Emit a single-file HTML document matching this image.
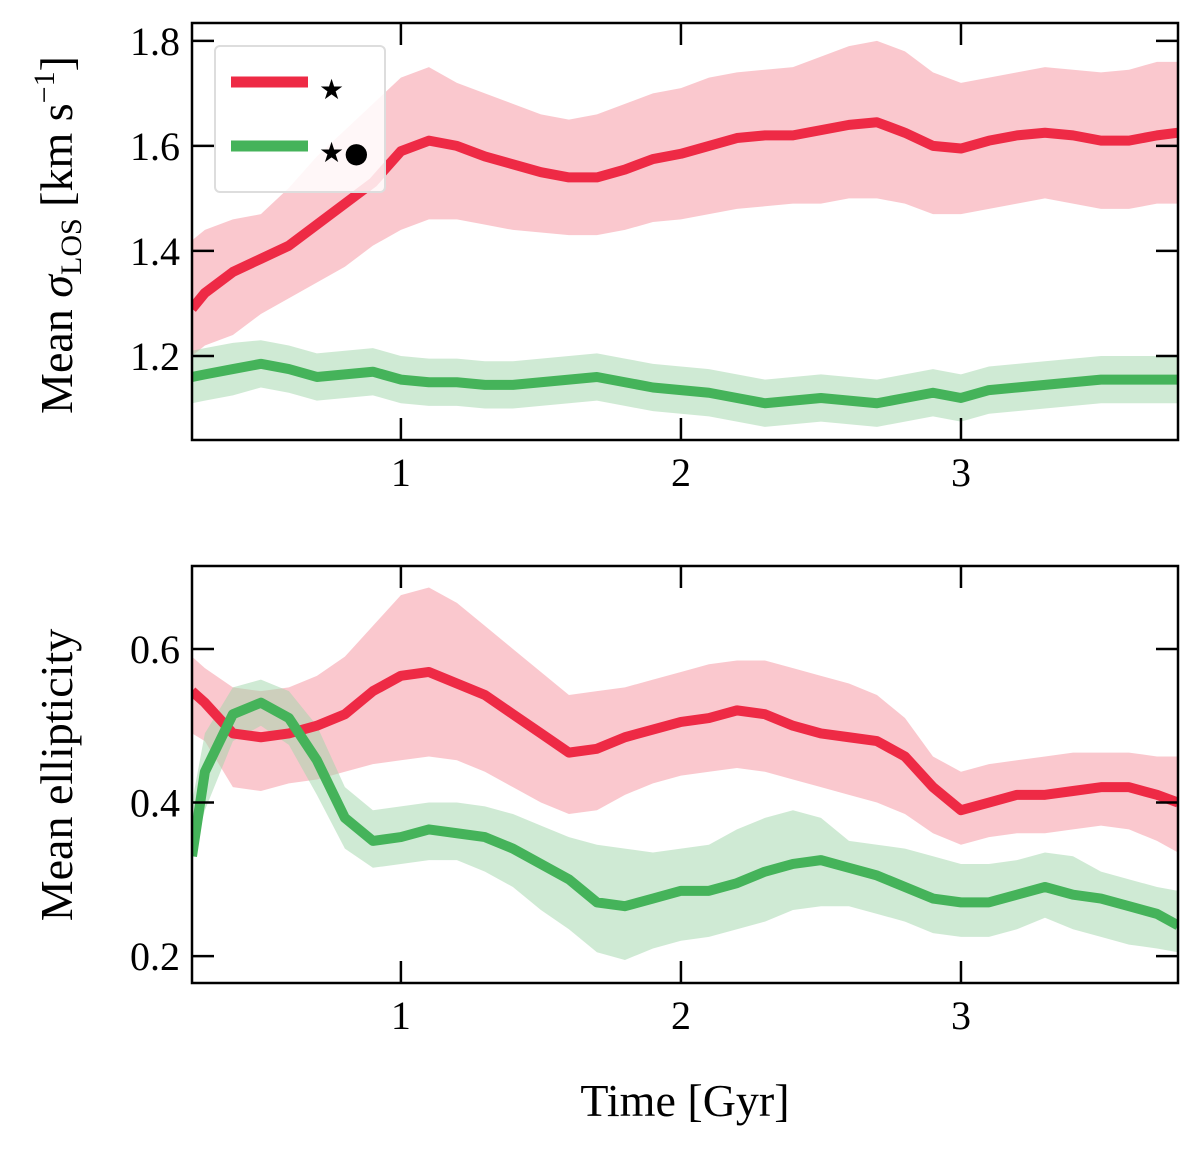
<!DOCTYPE html>
<html><head><meta charset="utf-8"><style>
html,body{margin:0;padding:0;background:#fff}
svg{display:block;font-family:"Liberation Serif",serif}
</style></head><body>
<svg id="chart" width="1200" height="1150" xmlns="http://www.w3.org/2000/svg"></svg>
<script>
const times=[0.254,0.3,0.4,0.5,0.6,0.7,0.8,0.9,1.0,1.1,1.2,1.3,1.4,1.5,1.6,1.7,1.8,1.9,2.0,2.1,2.2,2.3,2.4,2.5,2.6,2.7,2.8,2.9,3.0,3.1,3.2,3.3,3.4,3.5,3.6,3.7,3.775];
const xTicks=[1,2,3];
const sigmaTicks=[1.2,1.4,1.6,1.8];
const ellTicks=[0.2,0.4,0.6];
const sigStarMean=[1.29,1.32,1.36,1.385,1.41,1.45,1.49,1.53,1.59,1.61,1.60,1.58,1.565,1.55,1.54,1.54,1.555,1.575,1.585,1.60,1.615,1.62,1.62,1.63,1.64,1.645,1.625,1.60,1.595,1.61,1.62,1.625,1.62,1.61,1.61,1.62,1.625];
const sigStarHi=[1.42,1.44,1.46,1.47,1.52,1.58,1.63,1.68,1.73,1.75,1.72,1.70,1.68,1.66,1.65,1.66,1.68,1.70,1.71,1.73,1.74,1.745,1.75,1.77,1.79,1.80,1.78,1.74,1.72,1.73,1.74,1.75,1.745,1.74,1.745,1.76,1.76];
const sigStarLo=[1.20,1.22,1.24,1.28,1.31,1.34,1.37,1.41,1.44,1.46,1.46,1.45,1.44,1.435,1.43,1.43,1.44,1.455,1.46,1.47,1.48,1.485,1.49,1.49,1.50,1.50,1.49,1.47,1.47,1.48,1.49,1.50,1.49,1.48,1.48,1.49,1.49];
const sigBhMean=[1.16,1.165,1.175,1.185,1.175,1.16,1.165,1.17,1.155,1.15,1.15,1.145,1.145,1.15,1.155,1.16,1.15,1.14,1.135,1.13,1.12,1.11,1.115,1.12,1.115,1.11,1.12,1.13,1.12,1.135,1.14,1.145,1.15,1.155,1.155,1.155,1.155];
const sigBhHi=[1.21,1.215,1.225,1.23,1.22,1.205,1.21,1.215,1.20,1.195,1.195,1.19,1.19,1.195,1.20,1.205,1.195,1.185,1.18,1.175,1.165,1.155,1.16,1.165,1.16,1.155,1.165,1.175,1.165,1.18,1.185,1.19,1.195,1.20,1.20,1.20,1.20];
const sigBhLo=[1.11,1.115,1.125,1.14,1.13,1.115,1.12,1.125,1.11,1.105,1.105,1.10,1.10,1.105,1.11,1.115,1.105,1.095,1.09,1.085,1.075,1.065,1.07,1.075,1.07,1.065,1.075,1.085,1.075,1.09,1.095,1.10,1.105,1.11,1.11,1.11,1.11];
const ellStarMean=[0.545,0.53,0.49,0.485,0.49,0.50,0.515,0.545,0.565,0.57,0.555,0.54,0.515,0.49,0.465,0.47,0.485,0.495,0.505,0.51,0.52,0.515,0.50,0.49,0.485,0.48,0.46,0.42,0.39,0.40,0.41,0.41,0.415,0.42,0.42,0.41,0.40];
const ellStarHi=[0.59,0.575,0.55,0.545,0.55,0.565,0.59,0.63,0.67,0.68,0.66,0.63,0.60,0.57,0.54,0.545,0.55,0.56,0.57,0.58,0.585,0.585,0.575,0.565,0.555,0.54,0.51,0.46,0.44,0.45,0.455,0.46,0.465,0.465,0.465,0.46,0.46];
const ellStarLo=[0.49,0.48,0.42,0.415,0.425,0.43,0.44,0.45,0.455,0.46,0.455,0.44,0.42,0.40,0.385,0.39,0.41,0.425,0.435,0.44,0.445,0.44,0.43,0.42,0.41,0.40,0.385,0.36,0.345,0.355,0.36,0.36,0.365,0.37,0.365,0.35,0.335];
const ellBhMean=[0.33,0.44,0.515,0.53,0.51,0.455,0.38,0.35,0.355,0.365,0.36,0.355,0.34,0.32,0.30,0.27,0.265,0.275,0.285,0.285,0.295,0.31,0.32,0.325,0.315,0.305,0.29,0.275,0.27,0.27,0.28,0.29,0.28,0.275,0.265,0.255,0.24];
const ellBhHi=[0.40,0.49,0.55,0.56,0.545,0.50,0.42,0.39,0.395,0.40,0.40,0.395,0.385,0.37,0.355,0.345,0.34,0.335,0.34,0.345,0.365,0.38,0.39,0.38,0.35,0.345,0.34,0.33,0.32,0.32,0.325,0.335,0.33,0.31,0.30,0.29,0.285];
const ellBhLo=[0.33,0.39,0.48,0.50,0.475,0.41,0.34,0.315,0.32,0.325,0.325,0.31,0.29,0.26,0.235,0.205,0.195,0.21,0.22,0.225,0.235,0.245,0.26,0.265,0.265,0.255,0.245,0.23,0.225,0.225,0.235,0.25,0.235,0.225,0.215,0.21,0.205];

const NS='http://www.w3.org/2000/svg';
const svg=document.getElementById('chart');
const L=192,R=1178,X0=0.254,X1=3.775;
const xs=t=>L+(t-X0)/(X1-X0)*(R-L);
function mk(tag,attrs,parent){const e=document.createElementNS(NS,tag);for(const k in attrs)e.setAttribute(k,attrs[k]);(parent||svg).appendChild(e);return e;}
function panel(name,top,bot,v0,v1,yt,fmt,series){
  const ys=v=>bot-(v-v0)/(v1-v0)*(bot-top);
  const g=mk('g',{});
  
  
  const cp=mk('clipPath',{id:'cp-'+name},g);mk('rect',{x:L,y:top,width:R-L,height:bot-top},cp);
  const plot=mk('g',{'clip-path':'url(#cp-'+name+')'},g);
  series.forEach(s=>{
    let d='M'+times.map((t,i)=>xs(t)+','+ys(s.hi[i])).join('L');
    for(let i=times.length-1;i>=0;i--)d+='L'+xs(times[i])+','+ys(s.lo[i]);
    const b=mk('path',{d:d+'Z',fill:s.band,'fill-opacity':s.op},plot);
    
    
  });
  series.forEach(s=>{
    const p=mk('polyline',{points:times.map((t,i)=>xs(t)+','+ys(s.mean[i])).join(' '),fill:'none',stroke:s.color,'stroke-width':10,'stroke-linejoin':'round'},plot);
    
    
  });
  const f=mk('rect',{x:L,y:top,width:R-L,height:bot-top,fill:'none',stroke:'#000','stroke-width':2.5},g);
  
  
  xTicks.forEach(t=>{
    const x=xs(t);
    mk('line',{x1:x,x2:x,y1:bot,y2:bot-22,stroke:'#000','stroke-width':2.5},g);
    mk('line',{x1:x,x2:x,y1:top,y2:top+22,stroke:'#000','stroke-width':2.5},g);
    const tx=mk('text',{x:x,y:bot+46,'text-anchor':'middle','font-size':40},g);tx.textContent=t;
    
    
  });
  yt.forEach(v=>{
    const y=ys(v);
    mk('line',{x1:L,x2:L+22,y1:y,y2:y,stroke:'#000','stroke-width':2.5},g);
    mk('line',{x1:R,x2:R-22,y1:y,y2:y,stroke:'#000','stroke-width':2.5},g);
    const tx=mk('text',{x:L-12,y:y+14,'text-anchor':'end','font-size':40},g);tx.textContent=v.toFixed(fmt);
    
    
  });
}
panel('sigma-panel',23,440,1.04,1.834,sigmaTicks,1,[
 {name:'star',mean:sigStarMean,hi:sigStarHi,lo:sigStarLo,color:'#ee2a45',band:'#f59aa6',op:0.55},
 {name:'star-bh',mean:sigBhMean,hi:sigBhHi,lo:sigBhLo,color:'#45b35a',band:'#9fd6aa',op:0.5}]);
panel('ellipticity-panel',566,983,0.165,0.708,ellTicks,1,[
 {name:'star',mean:ellStarMean,hi:ellStarHi,lo:ellStarLo,color:'#ee2a45',band:'#f59aa6',op:0.55},
 {name:'star-bh',mean:ellBhMean,hi:ellBhHi,lo:ellBhLo,color:'#45b35a',band:'#9fd6aa',op:0.5}]);
</script>
<svg style="position:absolute;left:0;top:0" width="1200" height="1150" xmlns="http://www.w3.org/2000/svg" font-family="Liberation Serif, serif">
 <g>
  <rect x="215" y="46" width="170" height="146" rx="5" fill="#fff" fill-opacity="0.85" stroke="#ddd" stroke-width="2"/>
  <line x1="231" y1="82" x2="308" y2="82" stroke="#ee2a45" stroke-width="11"/>
  <text x="319" y="99" font-size="28" font-family="DejaVu Sans, sans-serif">★</text>
  <line x1="231" y1="146" x2="308" y2="146" stroke="#45b35a" stroke-width="11"/>
  <text x="319" y="162" font-size="28" font-family="DejaVu Sans, sans-serif">★●</text>
 </g>
 <text transform="translate(72,235) rotate(-90)" text-anchor="middle" font-size="46">Mean <tspan font-style="italic">σ</tspan><tspan font-size="30" dy="9">LOS</tspan><tspan dy="-9">  [km s</tspan><tspan font-size="30" dy="-18">−1</tspan><tspan dy="18">]</tspan></text>
 <text transform="translate(72,775) rotate(-90)" text-anchor="middle" font-size="46">Mean ellipticity</text>
 <text x="685" y="1116" text-anchor="middle" font-size="46">Time [Gyr]</text>
</svg>
</body></html>
